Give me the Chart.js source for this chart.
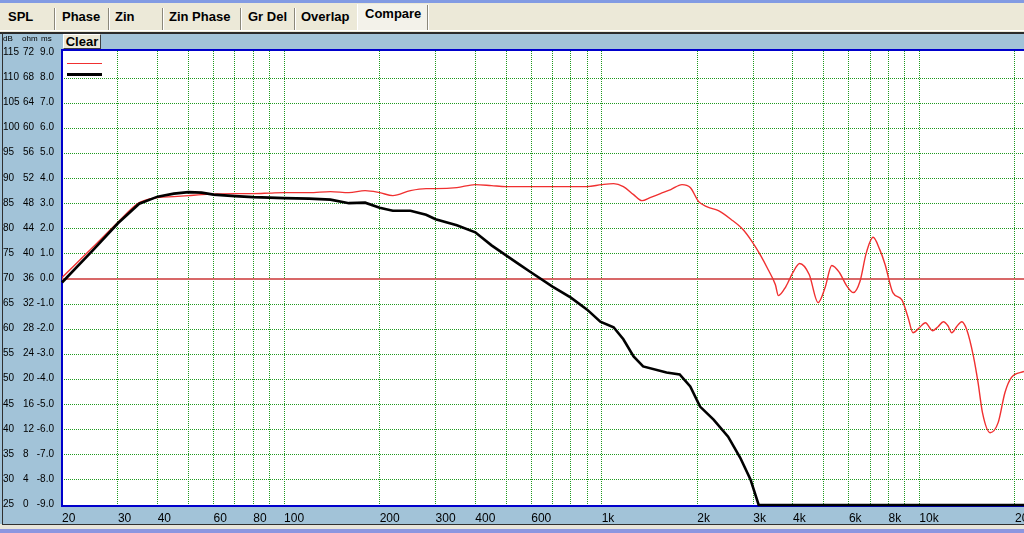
<!DOCTYPE html>
<html><head><meta charset="utf-8">
<script src="https://cdn.jsdelivr.net/npm/chart.js@4/dist/chart.umd.min.js"></script>
<style>
html,body{margin:0;padding:0;}
body{width:1024px;height:533px;position:relative;overflow:hidden;background:#ECE9D8;}
.abs{position:absolute;}
#topstrip{left:0;top:0;width:1024px;height:3px;background:#829BE3;}
.tab{position:absolute;top:9px;font:bold 13px "Liberation Sans",sans-serif;color:#000;white-space:nowrap;}
.sep{position:absolute;top:8px;width:1px;height:22px;background:#8a877a;border-right:1px solid #fff;}
#selTab{left:357px;top:4px;width:71px;height:27px;background:#F3F2EA;border-left:1px solid #fff;}
#whiteline{left:0;top:30px;width:1024px;height:1px;background:#fff;}
#darkline{left:0;top:32px;width:1024px;height:2px;background:#2a2a2a;}
#panel{left:0;top:34px;width:1024px;height:490px;background:#A2C3D8;}
#panelLeft{left:2px;top:32px;width:1px;height:493px;background:#303030;}
#panelBottom{left:2px;top:524px;width:1022px;height:1px;background:#303030;}
#bottomLight{left:0;top:525px;width:1024px;height:4px;background:#E8E6DC;}
#bottomBlue{left:0;top:529px;width:1024px;height:4px;background:#8C96E0;}
#clear{left:63px;top:34px;width:36px;height:13px;background:#ECE9D8;border:1px solid;border-color:#fff #404040 #404040 #fff;font:bold 13px "Liberation Sans",sans-serif;line-height:13px;text-align:center;color:#000;}
#c{position:absolute;left:0;top:0;}
</style>
</head><body>
<div class="abs" id="topstrip"></div>
<div class="abs" id="selTab"></div>
<div class="tab" style="left:8px">SPL</div>
<div class="sep" style="left:54px"></div>
<div class="tab" style="left:62px">Phase</div>
<div class="sep" style="left:108px"></div>
<div class="tab" style="left:115px">Zin</div>
<div class="sep" style="left:162px"></div>
<div class="tab" style="left:169px">Zin Phase</div>
<div class="sep" style="left:240px"></div>
<div class="tab" style="left:248px">Gr Del</div>
<div class="sep" style="left:294px"></div>
<div class="tab" style="left:301px">Overlap</div>
<div class="tab" style="left:365px;top:6px">Compare</div>
<div class="sep" style="left:427px;top:5px;height:25px"></div>
<div class="abs" id="whiteline"></div>
<div class="abs" id="darkline"></div>
<div class="abs" id="panel"></div>
<div class="abs" id="panelLeft"></div>
<div class="abs" id="panelBottom"></div>
<div class="abs" id="bottomLight"></div>
<div class="abs" id="bottomBlue"></div>
<div class="abs" id="clear">Clear</div>
<canvas id="c" width="1024" height="533"></canvas>
<script>
// ---- data ----
const freqRed = [20,25,30,35,40,45,50,55,60,70,80,90,100,120,140,160,180,200,220,250,280,300,350,400,450,500,600,700,800,900,1000,1090,1170,1260,1340,1420,1530,1650,1790,1900,2020,2140,2330,2550,2780,2970,3150,3340,3520,3600,3800,4000,4200,4500,4800,5050,5300,5600,5900,6200,6500,6800,7150,7500,7800,8250,8800,9200,9550,10000,10450,11000,11450,11900,12300,12650,13100,13600,14100,14800,15300,15800,16700,17700,18600,19500,21350];
const splRed = [70.3,76.3,81.3,85.2,86.2,86.4,86.6,86.8,86.9,87.0,87.0,87.1,87.2,87.2,87.4,87.2,87.6,87.2,86.6,87.6,88.0,88.0,88.2,88.8,88.6,88.4,88.4,88.4,88.4,88.4,88.8,89.0,88.4,86.8,85.6,86.2,87.0,87.8,88.8,88.2,85.4,84.4,83.6,81.9,79.9,77.5,74.9,71.9,68.9,66.7,68.5,71.3,73.1,70.9,65.3,68.3,72.7,71.3,68.7,67.3,69.5,75.1,78.3,75.9,72.9,67.3,65.9,62.5,59.3,60.3,61.3,59.7,60.5,61.5,60.7,59.3,60.5,61.5,59.9,54.6,49.4,43.4,39.4,41.4,47.4,50.4,51.6];
const freqBlack = [20,25,30,35,40,45,50,55,60,70,80,90,100,120,140,160,180,200,220,250,280,300,350,400,450,500,550,600,700,800,900,990,1090,1170,1260,1350,1600,1760,1900,2040,2250,2500,2730,2940,3120,21350];
const splBlack = [69.3,75.7,81.1,85.0,86.4,87.0,87.3,87.2,86.8,86.5,86.3,86.2,86.1,86.0,85.8,85.1,85.2,84.2,83.6,83.6,82.8,81.9,80.7,79.3,76.7,74.7,72.9,71.3,68.5,66.3,63.9,61.5,60.4,58.0,54.6,52.6,51.4,51.0,48.6,44.6,42.0,38.6,34.4,30.1,25,25];
const zeroFreqs = [20,21350];
const zeroDb = [70,70];
const gridFreqs = [20,30,40,50,60,70,80,90,100,200,300,400,500,600,700,800,900,1000,2000,3000,4000,5000,6000,7000,8000,9000,10000,20000];
const labelFreqs = [20,30,40,60,80,100,200,300,400,600,1000,2000,3000,4000,6000,8000,10000,20000];
const labelTexts = ['20','30','40','60','80','100','200','300','400','600','1k','2k','3k','4k','6k','8k','10k','20k'];
const dbTicks = [115,110,105,100,95,90,85,80,75,70,65,60,55,50,45,40,35,30,25];
const ohmTicks = [72,68,64,60,56,52,48,44,40,36,32,28,24,20,16,12,8,4,0];
const msTicks = ['9.0','8.0','7.0','6.0','5.0','4.0','3.0','2.0','1.0','0.0','-1.0','-2.0','-3.0','-4.0','-5.0','-6.0','-7.0','-8.0','-9.0'];
const axisHeaders = ['dB','ohm','ms'];

const toXY = (xs, ys) => xs.map((x, i) => ({x: x, y: ys[i]}));
const labelMap = {};
labelFreqs.forEach((f, i) => { labelMap[f] = labelTexts[i]; });

const GRID = '#1f9a1f';

const framePlugin = {
  id: 'frame',
  beforeDraw(chart) {
    const {ctx, chartArea: a} = chart;
    ctx.save();
    ctx.fillStyle = '#ffffff';
    ctx.fillRect(a.left, a.top, a.right - a.left, a.bottom - a.top);
    ctx.restore();
  },
  beforeDatasetsDraw(chart) {
    const {ctx, chartArea: a} = chart;
    ctx.save();
    ctx.fillStyle = '#0000CC';
    ctx.fillRect(a.left - 1, a.top - 2, a.right - a.left + 1, 2);
    ctx.fillRect(a.left - 1, a.top - 2, 2, a.bottom - a.top + 4);
    ctx.fillRect(a.left - 1, a.bottom, a.right - a.left + 1, 2);
    ctx.restore();
  },
  afterDraw(chart) {
    const {ctx} = chart;
    const ys = chart.scales.y;
    ctx.save();
    ctx.fillStyle = '#000';
    ctx.font = '8px "Liberation Sans", sans-serif';
    ctx.textBaseline = 'alphabetic';
    ctx.textAlign = 'left';
    ctx.fillText(axisHeaders[0], 3, 41);
    ctx.fillText(axisHeaders[1], 22, 41);
    ctx.fillText(axisHeaders[2], 41, 41);
    ctx.font = '10px "Liberation Sans", sans-serif';
    ctx.textBaseline = 'middle';
    dbTicks.forEach((v, i) => {
      const y = Math.round(ys.getPixelForValue(v)) - 1;
      ctx.textAlign = 'left';
      ctx.fillText(String(v), 3, y);
      ctx.fillText(String(ohmTicks[i]), 23, y);
      ctx.textAlign = 'right';
      ctx.fillText(msTicks[i], 54, y);
    });
    // legend swatches
    ctx.strokeStyle = '#F03030';
    ctx.lineWidth = 1;
    ctx.beginPath(); ctx.moveTo(67, 63.5); ctx.lineTo(102, 63.5); ctx.stroke();
    ctx.strokeStyle = '#000';
    ctx.lineWidth = 3;
    ctx.beginPath(); ctx.moveTo(67, 74.5); ctx.lineTo(102, 74.5); ctx.stroke();
    ctx.restore();
  }
};

new Chart(document.getElementById('c'), {
  type: 'line',
  data: {
    datasets: [
      {data: toXY(freqBlack, splBlack), borderColor: '#000000', borderWidth: 2.6, pointRadius: 0, tension: 0, clip: 4},
      {data: toXY(freqRed, splRed), borderColor: '#F03030', borderWidth: 1.4, pointRadius: 0, cubicInterpolationMode: 'monotone'},
      {data: toXY(zeroFreqs, zeroDb), borderColor: '#D86868', borderWidth: 2, pointRadius: 0}
    ]
  },
  options: {
    responsive: false,
    devicePixelRatio: 1,
    animation: false,
    events: [],
    layout: {padding: {left: 62, top: 51, right: 0, bottom: 0}, autoPadding: false},
    plugins: {legend: {display: false}, tooltip: {enabled: false}},
    scales: {
      x: {
        type: 'logarithmic',
        min: 20, max: 21350,
        afterBuildTicks: s => { s.ticks = gridFreqs.map(v => ({value: v})); },
        afterFit: s => { s.height = 28; s.paddingLeft = 0; s.paddingRight = 0; },
        grid: {color: GRID, lineWidth: 1, drawTicks: false, borderDash: [1, 1]},
        border: {display: false, dash: [1, 1]},
        ticks: {
          autoSkip: false, maxRotation: 0, minRotation: 0, align: 'start', padding: 6,
          color: '#000',
          font: {family: '"Liberation Sans Narrow", "Liberation Sans", sans-serif', size: 12},
          callback: v => (labelMap[v] !== undefined ? labelMap[v] : '')
        }
      },
      y: {
        type: 'linear',
        min: 25, max: 115.4,
        afterBuildTicks: s => { s.ticks = dbTicks.filter(v => v < 115).map(v => ({value: v})); },
        afterFit: s => { s.width = 0; s.paddingTop = 0; s.paddingBottom = 0; },
        grid: {color: GRID, lineWidth: 1, drawTicks: false, borderDash: [1, 1]},
        border: {display: false, dash: [1, 1]},
        ticks: {display: false}
      }
    }
  },
  plugins: [framePlugin]
});
</script>
</body></html>
